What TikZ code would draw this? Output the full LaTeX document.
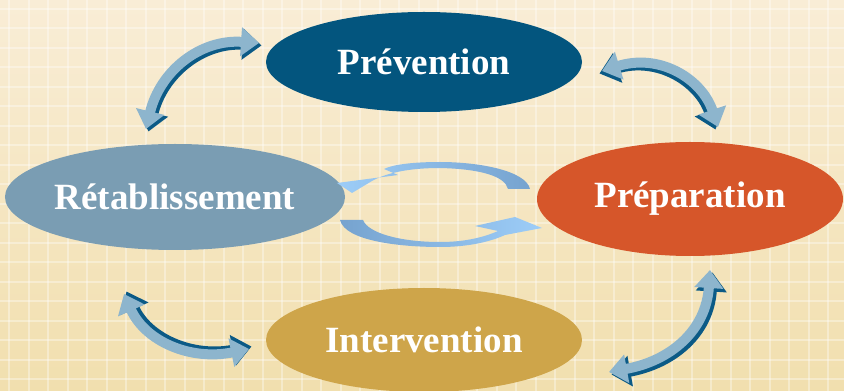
\documentclass[tikz,border=0pt]{standalone}
\usepackage{fontspec}
\setmainfont{Liberation Serif}
\usetikzlibrary{shapes.geometric,arrows.meta}

\definecolor{fondhaut}{HTML}{F9EDD6}
\definecolor{fondbas}{HTML}{F1DFAE}
\definecolor{bleufonce}{HTML}{03557E}
\definecolor{orange}{HTML}{D6562A}
\definecolor{grisbleu}{HTML}{7A9DB3}
\definecolor{ocre}{HTML}{CEA54A}
\definecolor{flecheclair}{HTML}{8DB5CD}
\definecolor{flechebord}{HTML}{0B5A86}
\definecolor{arcclair}{HTML}{9DCDF8}
\definecolor{arcfonce}{HTML}{76A3CF}

\tikzset{
  etape/.style={ellipse, inner sep=0pt, text=white,
    font=\fontsize{37}{40}\selectfont\bfseries},
  bord/.style={line width=11pt, flechebord,
    {Triangle[length=19pt,width=30pt]}-{Triangle[length=19pt,width=30pt]}},
  fleche/.style={line width=10pt, flecheclair,
    {Triangle[length=18pt,width=28pt]}-{Triangle[length=18pt,width=28pt]}}
}

\begin{document}
\begin{tikzpicture}[x=1pt,y=1pt]
        \useasboundingbox (0,0) rectangle (844,391);
        %%%%%%%%%% Fond %%%%%%%%%%
        \shade[top color=fondhaut, bottom color=fondbas] (0,0) rectangle (844,391);
        \foreach \i in {0,...,43}
          \fill[white, opacity=0.35] (8+19.5*\i,0) rectangle (10+19.5*\i,391);
        \foreach \j in {0,...,20}
          \fill[white, opacity=0.35] (0,381-19.5*\j) rectangle (844,383-19.5*\j);

        %%%%%%%%%% Nodi %%%%%%%%%%
        \node[etape, fill=bleufonce, minimum width=316pt, minimum height=100pt] (prev) at (424,329) {Prévention};
        \node[etape, fill=orange, minimum width=306pt, minimum height=114pt] (prep) at (690,192) {Préparation};
        \node[etape, fill=grisbleu, minimum width=322pt, minimum height=106pt] (reta) at (175,194) {Rétablissement};
        \node[etape, fill=ocre, minimum width=316pt, minimum height=104pt] (inter) at (424,51) {Intervention};

        %%%%%%%%% Extremites %%%%%%%%%
        \coordinate (hg1) at (146,262);
        \coordinate (hg2) at (259,348);
        \coordinate (hd1) at (602,320);
        \coordinate (hd2) at (718,264);
        \coordinate (bg1) at (124,97);
        \coordinate (bg2) at (249,42);
        \coordinate (bd1) at (609,19);
        \coordinate (bd2) at (710,121);

        %%%%%%%%% Frecce %%%%%%%%%
        \draw[bord, transform canvas={shift={(2.5pt,-2.5pt)}}] (hg1) .. controls (160,320) and (200,352) .. (hg2);
        \draw[fleche] (hg1) .. controls (160,320) and (200,352) .. (hg2);
        \draw[bord, transform canvas={shift={(-2.5pt,-2.5pt)}}] (hd1) .. controls (660,338) and (702,312) .. (hd2);
        \draw[fleche] (hd1) .. controls (660,338) and (702,312) .. (hd2);
        \draw[bord, transform canvas={shift={(2.5pt,2.5pt)}}] (bg1) .. controls (145,50) and (190,30) .. (bg2);
        \draw[fleche] (bg1) .. controls (145,50) and (190,30) .. (bg2);
        \draw[bord, transform canvas={shift={(2.5pt,-2.5pt)}}] (bd1) .. controls (670,30) and (706,60) .. (bd2);
        \draw[fleche] (bd1) .. controls (670,30) and (706,60) .. (bd2);

        %%%%%%%%% Cycle central %%%%%%%%%
        \shade[left color=arcclair, right color=arcfonce]
          (530,202) .. controls (526,220) and (480,229) .. (440,229)
          .. controls (410,229) and (392,226) .. (384,222) -- (398,216) -- (337,208) -- (352,198)
          -- (372,210) .. controls (388,219) and (412,223) .. (440,223)
          .. controls (480,222) and (505,215) .. (508,202) -- cycle;
        \shade[left color=arcfonce, right color=arcclair]
          (340,171) .. controls (345,150) and (400,144) .. (440,144)
          .. controls (470,144) and (492,150) .. (505,156) -- (542,163) -- (515,174)
          -- (475,165) -- (498,160) .. controls (480,152) and (460,149) .. (440,149)
          .. controls (400,149) and (368,158) .. (363,171) -- cycle;
    \end{tikzpicture}
\end{document}
